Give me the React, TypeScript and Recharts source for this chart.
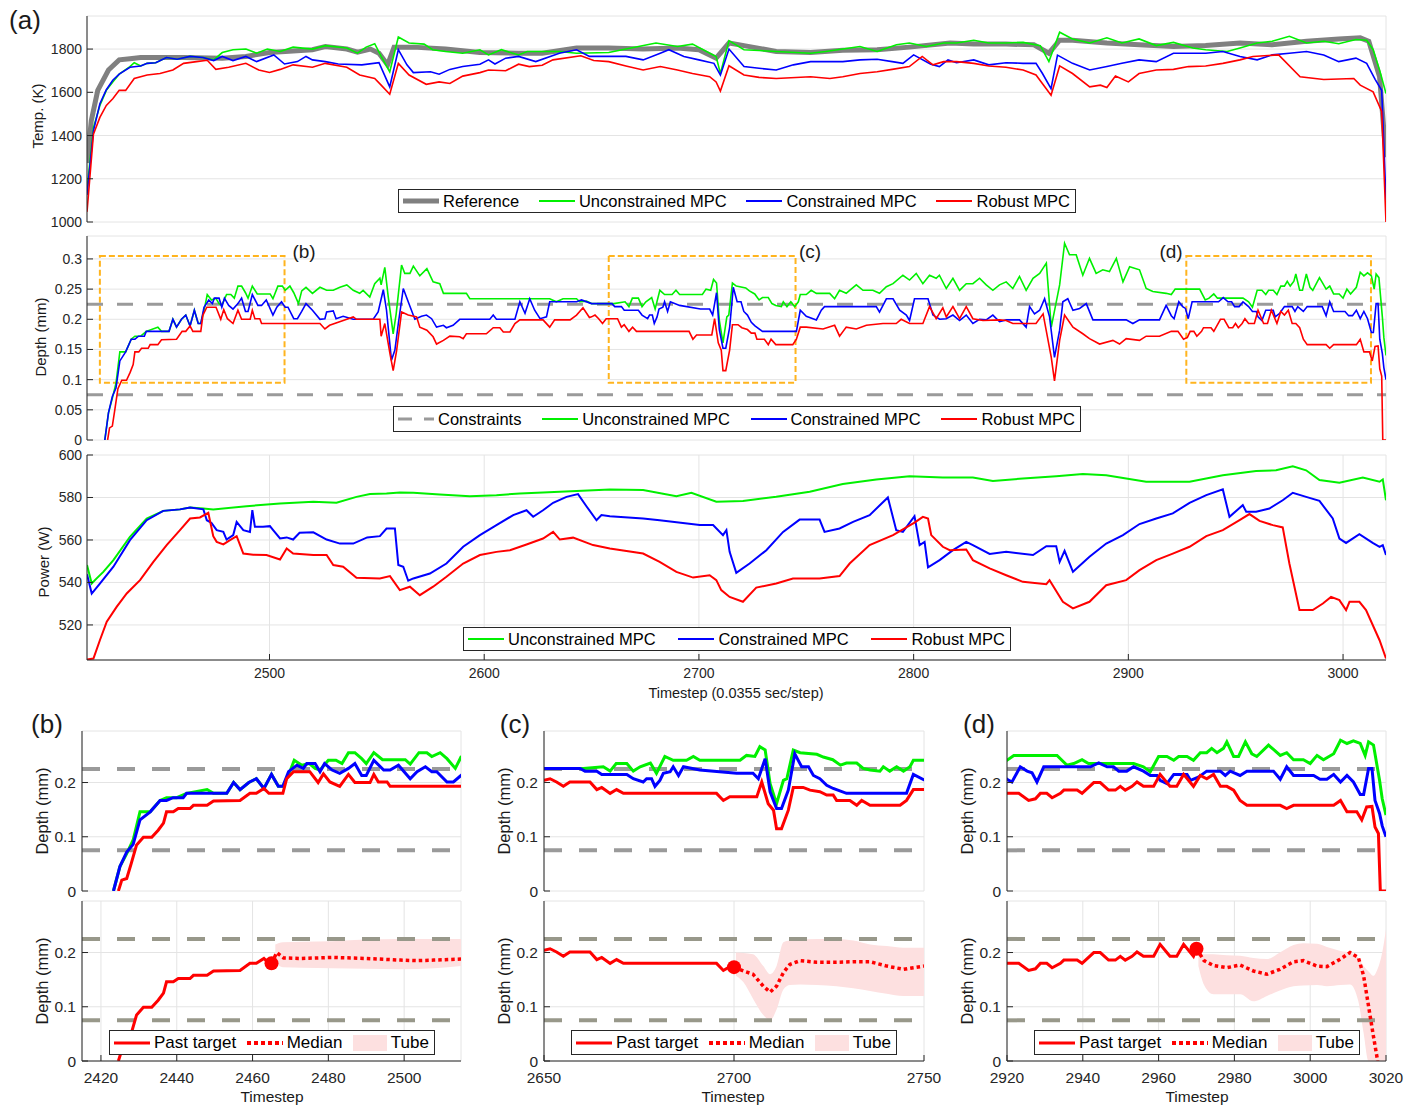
import React from 'react';
import {
  ComposedChart,
  Line,
  Area,
  XAxis,
  YAxis,
  CartesianGrid,
  ReferenceLine,
  ReferenceArea,
  ReferenceDot
} from 'recharts';

type Pt = [number, number];

// ---- panel (a): temperature (K) ----
const tempRef: Pt[] = [
  [2415, 1273], [2417, 1469], [2420, 1609], [2425, 1703], [2430, 1750], [2435, 1755], [2440, 1761], [2460, 1761],
  [2478, 1758], [2489, 1766], [2500, 1784], [2520, 1797], [2526, 1812], [2536, 1800], [2541, 1786], [2547, 1800],
  [2551, 1781], [2555, 1727], [2558, 1809], [2567, 1809], [2582, 1800], [2598, 1784], [2616, 1781], [2627, 1781],
  [2643, 1805], [2658, 1805], [2674, 1800], [2690, 1805], [2700, 1797], [2708, 1758], [2714, 1828], [2721, 1816],
  [2736, 1789], [2752, 1784], [2767, 1794], [2783, 1797], [2798, 1809], [2817, 1828], [2828, 1823], [2843, 1823],
  [2856, 1820], [2863, 1781], [2868, 1841], [2874, 1841], [2890, 1828], [2905, 1820], [2921, 1812], [2936, 1816],
  [2952, 1828], [2967, 1820], [2983, 1836], [2998, 1847], [3008, 1852], [3012, 1836], [3017, 1672], [3020, 1300]
];
const tempUnc: Pt[] = [
  [2415, 1150], [2418, 1437], [2421, 1539], [2424, 1609], [2427, 1648], [2430, 1684], [2435, 1719], [2437, 1737],
  [2440, 1722], [2443, 1734], [2447, 1737], [2452, 1761], [2457, 1753], [2463, 1766], [2469, 1761], [2474, 1750],
  [2478, 1784], [2483, 1797], [2489, 1800], [2494, 1781], [2499, 1800], [2505, 1789], [2511, 1809], [2520, 1800],
  [2526, 1816], [2536, 1805], [2541, 1781], [2545, 1809], [2549, 1825], [2552, 1766], [2556, 1695], [2560, 1856],
  [2565, 1828], [2572, 1823], [2576, 1797], [2582, 1789], [2590, 1781], [2598, 1797], [2602, 1773], [2608, 1797],
  [2616, 1773], [2620, 1789], [2627, 1789], [2635, 1789], [2643, 1781], [2658, 1784], [2666, 1800], [2680, 1828],
  [2690, 1812], [2697, 1823], [2708, 1766], [2710, 1687], [2714, 1839], [2721, 1797], [2736, 1789], [2752, 1781],
  [2759, 1789], [2767, 1800], [2775, 1812], [2783, 1789], [2792, 1820], [2798, 1828], [2806, 1812], [2814, 1828],
  [2820, 1828], [2828, 1841], [2835, 1828], [2843, 1828], [2851, 1831], [2859, 1816], [2863, 1742], [2868, 1878],
  [2874, 1847], [2882, 1828], [2890, 1852], [2897, 1828], [2905, 1847], [2913, 1816], [2921, 1831], [2930, 1805],
  [2936, 1797], [2946, 1789], [2952, 1805], [2960, 1828], [2967, 1836], [2975, 1859], [2983, 1828], [2991, 1836],
  [2998, 1825], [3006, 1844], [3011, 1841], [3014, 1797], [3017, 1703], [3020, 1594]
];
const tempCon: Pt[] = [
  [2415, 1125], [2418, 1422], [2421, 1547], [2424, 1612], [2427, 1656], [2430, 1684], [2435, 1716], [2440, 1722],
  [2443, 1734], [2447, 1737], [2452, 1761], [2457, 1753], [2463, 1766], [2469, 1761], [2474, 1747], [2478, 1766],
  [2483, 1747], [2489, 1766], [2494, 1742], [2502, 1773], [2507, 1731], [2513, 1742], [2517, 1766], [2520, 1750],
  [2526, 1742], [2532, 1731], [2543, 1727], [2551, 1737], [2556, 1625], [2560, 1797], [2564, 1727], [2567, 1691],
  [2575, 1695], [2579, 1684], [2584, 1706], [2590, 1719], [2598, 1730], [2602, 1750], [2605, 1731], [2610, 1758],
  [2616, 1766], [2624, 1742], [2635, 1781], [2643, 1797], [2649, 1766], [2666, 1766], [2674, 1750], [2682, 1781],
  [2686, 1797], [2693, 1766], [2700, 1750], [2707, 1734], [2710, 1680], [2714, 1800], [2721, 1719], [2728, 1711],
  [2736, 1703], [2744, 1727], [2752, 1742], [2767, 1742], [2775, 1750], [2783, 1753], [2790, 1742], [2795, 1734],
  [2800, 1773], [2808, 1730], [2812, 1719], [2816, 1750], [2820, 1737], [2828, 1750], [2835, 1727], [2843, 1737],
  [2851, 1734], [2857, 1734], [2860, 1687], [2864, 1617], [2867, 1772], [2874, 1734], [2882, 1703], [2890, 1719],
  [2897, 1734], [2905, 1750], [2913, 1742], [2921, 1781], [2936, 1781], [2944, 1789], [2952, 1766], [2960, 1750],
  [2967, 1773], [2975, 1781], [2983, 1789], [2991, 1773], [2998, 1742], [3006, 1758], [3011, 1734], [3015, 1659],
  [3018, 1609], [3020, 1100]
];
const tempRob: Pt[] = [
  [2415, 1047], [2418, 1406], [2421, 1484], [2424, 1539], [2427, 1570], [2430, 1609], [2433, 1609], [2437, 1664],
  [2443, 1680], [2449, 1687], [2455, 1703], [2460, 1734], [2466, 1742], [2471, 1748], [2475, 1706], [2481, 1716],
  [2489, 1734], [2495, 1703], [2500, 1692], [2505, 1706], [2511, 1727], [2520, 1716], [2526, 1734], [2536, 1716],
  [2542, 1680], [2549, 1664], [2552, 1633], [2556, 1591], [2560, 1734], [2565, 1680], [2573, 1637], [2579, 1648],
  [2584, 1641], [2590, 1675], [2598, 1691], [2602, 1703], [2610, 1700], [2616, 1730], [2621, 1719], [2627, 1725],
  [2632, 1750], [2645, 1769], [2651, 1747], [2658, 1742], [2666, 1722], [2674, 1703], [2682, 1719], [2690, 1703],
  [2697, 1687], [2705, 1672], [2708, 1648], [2710, 1606], [2714, 1723], [2721, 1680], [2728, 1669], [2736, 1664],
  [2752, 1672], [2761, 1664], [2767, 1672], [2775, 1687], [2783, 1695], [2790, 1706], [2798, 1719], [2804, 1766],
  [2809, 1727], [2814, 1742], [2820, 1742], [2828, 1734], [2835, 1722], [2843, 1716], [2851, 1703], [2857, 1680],
  [2864, 1586], [2868, 1722], [2874, 1687], [2882, 1625], [2887, 1633], [2890, 1622], [2894, 1675], [2900, 1648],
  [2905, 1687], [2913, 1703], [2921, 1706], [2928, 1719], [2936, 1722], [2944, 1734], [2952, 1750], [2958, 1766],
  [2970, 1773], [2980, 1672], [2991, 1659], [3005, 1664], [3008, 1633], [3014, 1602], [3018, 1511], [3020, 1000]
];

// ---- depth (mm) ----
const depthUnc: Pt[] = [
  [2423.3, 0], [2425, 0.045], [2426.8, 0.069], [2428.5, 0.094], [2430.3, 0.146], [2433, 0.146], [2435.6, 0.167],
  [2437.3, 0.172], [2440, 0.172], [2442.6, 0.18], [2448, 0.187], [2449.7, 0.18], [2453.2, 0.18], [2455, 0.2],
  [2456.7, 0.187], [2459, 0.2], [2461, 0.207], [2463, 0.189], [2465, 0.215], [2466.8, 0.193], [2468, 0.193],
  [2470, 0.223], [2471, 0.241], [2473, 0.232], [2475, 0.235], [2476.5, 0.226], [2477.8, 0.223], [2480, 0.241],
  [2482, 0.241], [2483.6, 0.235], [2485.3, 0.255], [2487, 0.255], [2488.8, 0.244], [2490, 0.235], [2492, 0.255],
  [2494.3, 0.242], [2500.3, 0.242], [2501.6, 0.234], [2503.9, 0.255], [2506, 0.255], [2507.3, 0.248], [2509.5, 0.255],
  [2511.3, 0.244], [2513.5, 0.226], [2515, 0.247], [2517, 0.253], [2520, 0.243], [2523.5, 0.253], [2526.6, 0.248],
  [2529.7, 0.248], [2532.8, 0.253], [2536, 0.257], [2539, 0.248], [2542, 0.243], [2543.6, 0.248], [2546.7, 0.237],
  [2549, 0.259], [2551.4, 0.268], [2552, 0.257], [2553.7, 0.286], [2555.3, 0.237], [2557.6, 0.176], [2559, 0.209],
  [2561.5, 0.29], [2563, 0.276], [2565.4, 0.276], [2567, 0.288], [2570, 0.272], [2573.3, 0.284], [2576.2, 0.262],
  [2579.3, 0.259], [2581, 0.243], [2591.7, 0.243], [2593.3, 0.234], [2630.5, 0.234], [2633.6, 0.229],
  [2636.7, 0.234], [2643, 0.234], [2644.5, 0.229], [2647.6, 0.23], [2650, 0.226], [2660.4, 0.226], [2665.6, 0.229],
  [2667.4, 0.221], [2669, 0.235], [2671.8, 0.235], [2673.5, 0.221], [2675.3, 0.229], [2678, 0.236], [2679.6, 0.217],
  [2681.8, 0.248], [2684, 0.241], [2687.5, 0.241], [2689.3, 0.248], [2691, 0.241], [2701.6, 0.241], [2703.3, 0.25],
  [2705.5, 0.248], [2706.8, 0.266], [2708.2, 0.26], [2709.5, 0.198], [2711.2, 0.161], [2713, 0.204], [2713.9, 0.207],
  [2715.6, 0.26], [2717.4, 0.255], [2721.8, 0.252], [2723.5, 0.247], [2726, 0.242], [2728, 0.232], [2729.6, 0.236],
  [2732.3, 0.236], [2734, 0.226], [2735.8, 0.223], [2738.4, 0.221], [2739.3, 0.229], [2741, 0.221], [2742.8, 0.229],
  [2744.6, 0.221], [2746.3, 0.229], [2747.2, 0.241], [2750, 0.241], [2752.3, 0.248], [2754.7, 0.243],
  [2760.9, 0.243], [2763.2, 0.234], [2765.5, 0.248], [2768.6, 0.243], [2770.2, 0.248], [2773.3, 0.257],
  [2776.4, 0.248], [2781, 0.248], [2784.1, 0.243], [2787.3, 0.254], [2790.4, 0.259], [2795, 0.273], [2798.1, 0.265],
  [2801.2, 0.276], [2804.3, 0.259], [2807.4, 0.273], [2810.5, 0.268], [2812, 0.273], [2815.2, 0.251],
  [2818.3, 0.268], [2821.4, 0.248], [2824.5, 0.259], [2827.6, 0.259], [2830.7, 0.268], [2833.8, 0.257],
  [2836.9, 0.248], [2840, 0.257], [2843.1, 0.262], [2846.2, 0.251], [2849.3, 0.271], [2852.4, 0.248],
  [2855.6, 0.268], [2858.7, 0.276], [2861.8, 0.293], [2864.1, 0.187], [2868, 0.257], [2870.3, 0.326],
  [2872.6, 0.307], [2875.7, 0.307], [2878.8, 0.273], [2881.9, 0.301], [2885, 0.276], [2888.1, 0.282],
  [2891.2, 0.279], [2894.4, 0.301], [2897.5, 0.262], [2900.6, 0.287], [2905.2, 0.282], [2908.3, 0.251],
  [2911.4, 0.246], [2917.6, 0.243], [2920, 0.241], [2921.8, 0.25], [2933.2, 0.25], [2935.8, 0.232],
  [2937.6, 0.235], [2939.8, 0.242], [2941.5, 0.235], [2953.4, 0.235], [2956, 0.229], [2957.8, 0.22], [2960, 0.248],
  [2962.2, 0.248], [2964, 0.241], [2965.3, 0.248], [2967.5, 0.248], [2969.2, 0.241], [2971, 0.255], [2972.7, 0.255],
  [2974, 0.263], [2975.4, 0.255], [2977.1, 0.263], [2978, 0.275], [2979.8, 0.248], [2981.1, 0.248], [2982.9, 0.275],
  [2984.6, 0.253], [2985.9, 0.248], [2989, 0.269], [2990.3, 0.261], [2992.1, 0.25], [2993.8, 0.255],
  [2995.6, 0.242], [2998.2, 0.242], [3000, 0.235], [3001.8, 0.25], [3003.5, 0.242], [3006.2, 0.253], [3008, 0.278],
  [3009.7, 0.272], [3011.4, 0.277], [3013.2, 0.272], [3014.5, 0.25], [3015.4, 0.275], [3016.7, 0.269],
  [3018.3, 0.204], [3019, 0.17], [3020, 0.14]
];
const depthCon: Pt[] = [
  [2423.3, 0], [2425, 0.045], [2426.8, 0.072], [2428.5, 0.086], [2430.3, 0.131], [2433, 0.146], [2435.6, 0.167],
  [2437.3, 0.167], [2439, 0.172], [2441.7, 0.172], [2442.6, 0.18], [2453.2, 0.18], [2455, 0.2], [2456.7, 0.187],
  [2459, 0.2], [2461, 0.207], [2463, 0.189], [2465, 0.215], [2466.8, 0.193], [2468, 0.193], [2469.5, 0.22],
  [2471.7, 0.232], [2473.4, 0.226], [2474.3, 0.235], [2476.5, 0.235], [2477.8, 0.22], [2479, 0.235], [2481, 0.223],
  [2483, 0.217], [2485.3, 0.226], [2487, 0.235], [2488.8, 0.213], [2490, 0.213], [2492, 0.241], [2494.6, 0.223],
  [2496.3, 0.223], [2498.5, 0.232], [2501.6, 0.207], [2503.4, 0.22], [2505.6, 0.229], [2507.3, 0.22],
  [2508.6, 0.22], [2511.3, 0.201], [2513, 0.201], [2515, 0.213], [2517, 0.226], [2520, 0.215], [2523.5, 0.2],
  [2525.8, 0.201], [2526.6, 0.212], [2529.7, 0.214], [2531, 0.201], [2534.3, 0.205], [2539, 0.2], [2548.3, 0.2],
  [2550.6, 0.212], [2553, 0.249], [2554.5, 0.215], [2556.8, 0.132], [2558.4, 0.149], [2560, 0.193],
  [2562.3, 0.251], [2564.6, 0.229], [2567.7, 0.2], [2570.8, 0.205], [2573.1, 0.207], [2575.5, 0.201],
  [2577.8, 0.187], [2581, 0.19], [2582.4, 0.186], [2585.5, 0.19], [2588.6, 0.2], [2602.6, 0.2], [2604.2, 0.207],
  [2605.7, 0.2], [2614.3, 0.2], [2616.6, 0.229], [2619, 0.21], [2621.2, 0.234], [2623.5, 0.215], [2626, 0.201],
  [2629, 0.204], [2630.5, 0.229], [2643, 0.229], [2645.3, 0.232], [2650, 0.226], [2659.5, 0.226],
  [2660.8, 0.221], [2663.9, 0.221], [2665.2, 0.215], [2671.8, 0.215], [2673.5, 0.207], [2676.1, 0.201],
  [2677, 0.207], [2678.3, 0.207], [2679.2, 0.193], [2680.5, 0.204], [2681.4, 0.217], [2683.2, 0.22], [2684, 0.229],
  [2685.4, 0.213], [2686.7, 0.229], [2691, 0.223], [2700.7, 0.217], [2705, 0.217], [2706.4, 0.207],
  [2708.2, 0.244], [2709.5, 0.183], [2711.2, 0.152], [2712.5, 0.152], [2714.3, 0.186], [2716, 0.253],
  [2717.8, 0.229], [2719.6, 0.229], [2720.9, 0.213], [2722.6, 0.207], [2724.4, 0.195], [2726.1, 0.189],
  [2729.6, 0.18], [2745.4, 0.18], [2747.2, 0.215], [2750, 0.205], [2754.7, 0.199], [2757, 0.215], [2758.5, 0.221],
  [2782.6, 0.221], [2784.1, 0.212], [2787.3, 0.234], [2790.4, 0.234], [2793.5, 0.215], [2796.6, 0.207],
  [2798.1, 0.198], [2800.4, 0.234], [2806.7, 0.234], [2809, 0.207], [2812.1, 0.2], [2815.2, 0.201],
  [2818.3, 0.207], [2821.4, 0.198], [2824.5, 0.207], [2827.6, 0.193], [2830.7, 0.2], [2833.8, 0.199],
  [2836.9, 0.207], [2840, 0.196], [2843.1, 0.199], [2849.3, 0.199], [2852.4, 0.187], [2854, 0.221],
  [2856.3, 0.209], [2858.7, 0.215], [2861, 0.234], [2863.3, 0.204], [2865.6, 0.137], [2868, 0.182],
  [2869.5, 0.229], [2871.8, 0.234], [2874.2, 0.215], [2877.3, 0.218], [2880.4, 0.226], [2883.5, 0.199],
  [2899, 0.199], [2902.1, 0.193], [2905.2, 0.199], [2914.5, 0.199], [2917.6, 0.223], [2920, 0.206],
  [2921.3, 0.201], [2923.5, 0.229], [2925.3, 0.221], [2926.6, 0.218], [2927.9, 0.201], [2929.7, 0.229],
  [2942, 0.229], [2944.2, 0.236], [2946.4, 0.229], [2948.1, 0.229], [2949.5, 0.221], [2951.6, 0.221],
  [2953.4, 0.229], [2956, 0.221], [2957.8, 0.213], [2959.6, 0.213], [2960.4, 0.204], [2962.2, 0.198], [2964, 0.215],
  [2967.5, 0.215], [2968.4, 0.204], [2970.5, 0.21], [2972.7, 0.221], [2976.3, 0.221], [2977.6, 0.213],
  [2978.9, 0.221], [2981.5, 0.213], [2983.3, 0.221], [2990.3, 0.221], [2992.1, 0.206], [2993.8, 0.229],
  [2995.6, 0.213], [3000.9, 0.213], [3002.6, 0.206], [3004.4, 0.206], [3006.2, 0.215], [3008, 0.201],
  [3009.7, 0.213], [3011.4, 0.201], [3013.2, 0.178], [3014.1, 0.178], [3015.4, 0.226], [3016.3, 0.226],
  [3017.1, 0.167], [3018.3, 0.143], [3019, 0.12], [3020, 0.1]
];
const depthRob: Pt[] = [
  [2424.6, 0], [2425.5, 0.02], [2426.8, 0.023], [2428, 0.051], [2429.4, 0.085], [2431.2, 0.099], [2433.4, 0.099],
  [2435.1, 0.112], [2436.5, 0.125], [2437.3, 0.146], [2439.1, 0.146], [2440.4, 0.152], [2443.5, 0.152],
  [2444.4, 0.158], [2448, 0.158], [2449.7, 0.166], [2456.7, 0.167], [2459.3, 0.18], [2461, 0.18], [2463, 0.189],
  [2464.3, 0.18], [2468, 0.18], [2469, 0.207], [2470.8, 0.22], [2475.1, 0.22], [2477.3, 0.2], [2478.7, 0.216],
  [2480.4, 0.201], [2483, 0.193], [2485.3, 0.215], [2487, 0.2], [2491, 0.2], [2492, 0.215], [2493.2, 0.201],
  [2495.5, 0.201], [2496.3, 0.193], [2523.5, 0.193], [2525.8, 0.184], [2528, 0.19], [2536, 0.2], [2539, 0.204],
  [2540.5, 0.2], [2551.4, 0.2], [2552, 0.172], [2553.7, 0.193], [2556.1, 0.143], [2557.6, 0.115], [2559.2, 0.148],
  [2561.5, 0.212], [2564.6, 0.207], [2568.5, 0.204], [2570, 0.187], [2573.3, 0.182], [2576.2, 0.171],
  [2577.8, 0.159], [2581, 0.165], [2584, 0.172], [2588.6, 0.171], [2590.2, 0.168], [2591.7, 0.176], [2601, 0.176],
  [2604.2, 0.186], [2607.3, 0.186], [2608.9, 0.179], [2612, 0.179], [2614.3, 0.193], [2616.6, 0.199],
  [2627.4, 0.199], [2630.5, 0.187], [2632.8, 0.199], [2640, 0.199], [2643, 0.207], [2646, 0.219], [2649, 0.203],
  [2650, 0.204], [2651.6, 0.207], [2653.3, 0.201], [2655.1, 0.193], [2656.8, 0.201], [2662.1, 0.201],
  [2663.9, 0.187], [2665.2, 0.191], [2667.4, 0.18], [2669.1, 0.187], [2670.9, 0.18], [2695.4, 0.18],
  [2697.2, 0.167], [2698.9, 0.174], [2706, 0.174], [2707.3, 0.201], [2709, 0.161], [2710.4, 0.149],
  [2711.2, 0.115], [2712.5, 0.115], [2714.3, 0.149], [2715.6, 0.191], [2718.2, 0.191], [2720, 0.186],
  [2722.6, 0.183], [2724.4, 0.177], [2726.1, 0.177], [2727, 0.167], [2730.5, 0.167], [2732.3, 0.158],
  [2733.6, 0.167], [2735.8, 0.158], [2743.7, 0.158], [2745.4, 0.167], [2747.2, 0.187], [2750, 0.187],
  [2757.8, 0.184], [2763.2, 0.19], [2765.5, 0.172], [2768.6, 0.187], [2773.3, 0.184], [2778, 0.19],
  [2785.7, 0.193], [2791.9, 0.193], [2794.2, 0.2], [2798.1, 0.193], [2804.3, 0.193], [2807.4, 0.221],
  [2810.5, 0.201], [2813.6, 0.219], [2815.2, 0.204], [2818.3, 0.221], [2821.4, 0.201], [2824.5, 0.221],
  [2827.6, 0.201], [2832.3, 0.198], [2840, 0.199], [2843.1, 0.198], [2846.2, 0.193], [2857, 0.193],
  [2860.3, 0.209], [2864.1, 0.137], [2865.6, 0.098], [2868, 0.165], [2870.3, 0.207], [2874.2, 0.187],
  [2878.8, 0.176], [2881.9, 0.168], [2886.6, 0.159], [2892.8, 0.165], [2895.9, 0.159], [2899, 0.168],
  [2905.2, 0.165], [2908.3, 0.172], [2914.5, 0.172], [2920, 0.18], [2923.1, 0.18], [2925.7, 0.167],
  [2927.5, 0.17], [2928.8, 0.18], [2930.5, 0.18], [2931.9, 0.172], [2934.1, 0.18], [2935, 0.186],
  [2938.5, 0.186], [2939.8, 0.18], [2942.9, 0.2], [2944.6, 0.2], [2946.8, 0.186], [2948.6, 0.186],
  [2949.9, 0.193], [2951.2, 0.186], [2953, 0.193], [2954.3, 0.201], [2956, 0.193], [2958.7, 0.193],
  [2960.4, 0.215], [2963, 0.193], [2964.8, 0.193], [2966.6, 0.215], [2969.2, 0.193], [2971, 0.213],
  [2972.7, 0.207], [2974.5, 0.215], [2976.3, 0.193], [2978, 0.193], [2979.8, 0.186], [2981.5, 0.167],
  [2983.3, 0.158], [2992.1, 0.158], [2993.8, 0.152], [2995.6, 0.158], [3006.2, 0.158], [3008, 0.167],
  [3009.7, 0.146], [3012.3, 0.146], [3013.6, 0.131], [3014.9, 0.155], [3016.3, 0.156], [3017.1, 0.118],
  [3018, 0.106], [3018.5, 0], [3020, 0]
];
const constraintLevels = [0.075, 0.225];
// dashed orange boxes: timestep spans, depth span
const boxSpans: Pt[] = [[2421, 2507], [2658, 2745], [2927, 3013]];
const boxDepth: Pt = [0.095, 0.305];
const boxNames = ['(b)', '(c)', '(d)'];

// ---- power (W) ----
const powerUnc: Pt[] = [
  [2415, 548.2], [2417.2, 539.5], [2419.5, 541.9], [2422.6, 545], [2427.3, 550.5], [2435, 561.5], [2442.8, 570.1],
  [2450.5, 573.7], [2458.3, 574.4], [2463, 575.3], [2469.2, 574.8], [2473.8, 574.4], [2489.3, 575.9],
  [2504.9, 577.2], [2520.4, 578], [2531.2, 577.5], [2540.5, 580.3], [2546.8, 581.6], [2554.5, 581.9],
  [2560.7, 582.4], [2567, 582.2], [2579.3, 581.4], [2593.3, 580.6], [2605.7, 581.1], [2616.6, 581.9],
  [2627.4, 582.4], [2643, 583.1], [2658.5, 583.8], [2674, 583.5], [2689.5, 580.6], [2696.5, 582.2], [2708.1, 578],
  [2720.5, 578.4], [2736, 580.3], [2751.6, 582.7], [2767, 586.3], [2782.6, 588.5], [2798.1, 590], [2813.6, 589.4],
  [2827.6, 589.4], [2836.9, 587.8], [2850.9, 588.9], [2866.4, 590], [2878.8, 591], [2889.7, 590.5], [2899, 588.9],
  [2908.3, 587.4], [2928.5, 587.4], [2944, 590.5], [2959.5, 592.5], [2968.8, 592.8], [2976.6, 594.7],
  [2982.8, 592.8], [2989, 588.2], [2998.3, 586.9], [3009.2, 589.4], [3017, 587.4], [3018.5, 588.5], [3020, 578.7]
];
const powerCon: Pt[] = [
  [2415, 543.9], [2417.2, 534.8], [2421, 539.5], [2427.3, 547.4], [2435, 559.9], [2442.8, 569.3], [2450.5, 573.7],
  [2458.3, 574.4], [2463, 575.3], [2469.2, 574.4], [2470.8, 569.3], [2473, 568], [2475.4, 564.6], [2478.5, 563.8],
  [2480, 560.2], [2483.1, 562.3], [2484.7, 568.5], [2487.8, 564.6], [2490.9, 563.8], [2492, 574], [2493.2, 566.2],
  [2497, 566.2], [2500.2, 566.5], [2501.7, 564.6], [2504.9, 560.7], [2508, 561.2], [2511, 560.2], [2514, 563.4],
  [2520.4, 563.6], [2526.6, 560.2], [2532.8, 558.3], [2539, 558.3], [2545.5, 561.2], [2551.4, 561.8],
  [2554.5, 565.4], [2558.4, 565.4], [2560, 548.2], [2562.3, 547.4], [2564.6, 540.8], [2567, 541.9],
  [2574.7, 544.2], [2582.4, 548.9], [2590.2, 556.8], [2598, 562.3], [2605.7, 567], [2613.5, 571.7],
  [2619.7, 574], [2622.8, 570.9], [2627.4, 574], [2632.1, 577.5], [2638.3, 580.3], [2643.7, 581.6],
  [2647.6, 575.9], [2652.3, 569.3], [2654.6, 571.7], [2658.5, 571.2], [2674, 570.1], [2681.7, 569.3],
  [2700.4, 567], [2706.6, 567], [2711.2, 562.3], [2712.8, 564.6], [2714.3, 554.4], [2717.4, 544.5],
  [2723.6, 548.9], [2731.4, 555.2], [2739.2, 563.8], [2746.9, 569.6], [2756.2, 569.6], [2758.5, 563.8],
  [2765.5, 565.4], [2771.8, 568.5], [2779.5, 571.7], [2788, 580], [2791.9, 564.6], [2795, 563.8],
  [2800.4, 571.2], [2802.8, 557.6], [2805.1, 559.1], [2806.7, 547.1], [2812.1, 550.5], [2818.3, 555.2],
  [2824.5, 559.1], [2827.6, 557.6], [2835.4, 553.4], [2843.1, 554.4], [2855.6, 552.9], [2861.8, 557.1],
  [2866.4, 557.1], [2868, 549.7], [2870.3, 554.9], [2874.2, 545], [2881.9, 552.1], [2889.7, 558.3],
  [2897.5, 562.3], [2905.2, 567.5], [2913, 570.1], [2920.7, 572.5], [2928.5, 577.5], [2936.3, 581.1],
  [2944, 583.8], [2947.1, 570.9], [2953.3, 576.4], [2954.9, 573.3], [2959.5, 573.3], [2965.7, 574.8],
  [2971.9, 578.7], [2976.6, 582.2], [2982.8, 580.3], [2989, 578.4], [2995.2, 570.1], [2998.3, 560.7],
  [3001.4, 558.6], [3007.6, 562.7], [3013.8, 558.6], [3017, 556.8], [3018.5, 557.6], [3020, 552.9]
];
const powerRob: Pt[] = [
  [2415, 503.7], [2418, 504.2], [2421, 512.8], [2424.2, 521.5], [2428.8, 528.5], [2433.5, 534.8], [2439.7, 541.1],
  [2445.9, 549.7], [2452.1, 557.6], [2458.3, 564.6], [2463, 570.1], [2467.6, 570.6], [2471.5, 572.8],
  [2473.8, 561.8], [2475.4, 559.1], [2478.5, 557.9], [2481.6, 559.9], [2484.7, 561.8], [2487.8, 553.6],
  [2492.4, 553.1], [2498.6, 552.9], [2504.9, 550.8], [2508, 556], [2511, 553.6], [2520.4, 552.9], [2526.6, 552.9],
  [2529.7, 548.2], [2534.3, 547.4], [2540.5, 542.2], [2551.4, 541.9], [2556.1, 543], [2560.7, 536.4],
  [2565.4, 538], [2570, 534], [2576.2, 538], [2582.4, 542.7], [2590.2, 548.9], [2598, 552.9], [2605.7, 554.4],
  [2612, 555.2], [2619.7, 557.9], [2627.4, 560.7], [2632.1, 563.8], [2635.2, 560.2], [2641.4, 561.1],
  [2650.7, 557.6], [2658.5, 556], [2674, 553.6], [2681.7, 549.7], [2689.5, 545], [2697.3, 542.3], [2705, 543.4],
  [2708.1, 541.1], [2710.4, 536.4], [2714.3, 533.2], [2720.5, 530.9], [2726.7, 537.6], [2736, 539.5],
  [2743.8, 541.9], [2756.2, 541.9], [2765.5, 543], [2770.2, 548.9], [2779.5, 557.6], [2790.4, 562.3],
  [2800.4, 568.2], [2804.3, 570.9], [2806.7, 570.1], [2808.2, 562.3], [2813.6, 556.8], [2816.8, 555.2],
  [2824.5, 555.5], [2827.6, 550.5], [2835.4, 546.6], [2843.1, 543.4], [2850.9, 540.3], [2861.8, 539.2],
  [2863.3, 541.1], [2869.5, 530.9], [2874.2, 527.8], [2881.9, 530.9], [2889.7, 538.7], [2899, 541.1],
  [2905.2, 545.8], [2913, 550.5], [2920.7, 553.6], [2928.5, 556.8], [2936.3, 561.8], [2944, 564.6],
  [2951.8, 569.3], [2956.4, 572.2], [2961.1, 569], [2967.3, 567], [2971.9, 565.9], [2975, 548.9], [2979.7, 527],
  [2985.9, 527], [2990.6, 530.1], [2994.4, 533.2], [2998.3, 531.7], [3001.4, 527], [3003, 530.9], [3007.6, 530.9],
  [3010.7, 527], [3017, 512.8], [3020, 504.2]
];

// ---- zoom panels (b), (c), (d) ----
const zoomWindows: Pt[] = [[2415, 2515], [2650, 2750], [2920, 3020]];
const zoomTicks = [
  [2420, 2440, 2460, 2480, 2500],
  [2650, 2700, 2750],
  [2920, 2940, 2960, 2980, 3000, 3020]
];
// prediction start (timestep, depth)
const predStart: Pt[] = [[2465, 0.18], [2700, 0.173], [2970, 0.207]];
const medianB: Pt[] = [
  [2465, 0.18], [2466.4, 0.2], [2468.2, 0.19], [2472.6, 0.189], [2481.4, 0.191], [2490.2, 0.189], [2499, 0.186],
  [2503.4, 0.185], [2507.8, 0.186], [2515, 0.188]
];
const medianC: Pt[] = [
  [2700, 0.173], [2702.5, 0.166], [2705, 0.16], [2707.7, 0.138], [2709.5, 0.127], [2711.2, 0.138], [2713, 0.163],
  [2714.7, 0.178], [2717.4, 0.185], [2721.8, 0.182], [2727, 0.182], [2731.4, 0.183], [2735.8, 0.183],
  [2740.2, 0.175], [2744.6, 0.169], [2747.2, 0.172], [2750, 0.175]
];
const medianD: Pt[] = [
  [2970, 0.207], [2972, 0.185], [2974.5, 0.176], [2978, 0.172], [2981.5, 0.177], [2985, 0.166], [2988.6, 0.16],
  [2992, 0.169], [2995.6, 0.183], [2998.2, 0.185], [3001.8, 0.175], [3004.4, 0.174], [3008, 0.188], [3010.5, 0.2],
  [3012.7, 0.191], [3014.1, 0.157], [3015.4, 0.101], [3016.7, 0.045], [3017.8, 0]
];
const tubeBT = [2466, 2468, 2473, 2481, 2490, 2499, 2508, 2515];
const tubeBHi = [0.215, 0.219, 0.22, 0.221, 0.224, 0.225, 0.225, 0.225];
const tubeBLo = [0.181, 0.173, 0.172, 0.171, 0.17, 0.169, 0.171, 0.175];
const tubeCT = [2700.5, 2702.5, 2705, 2707.7, 2709.5, 2711.2, 2713, 2714.7, 2717.4, 2721.8, 2727, 2731.4, 2735.8, 2740.2, 2744.6, 2750];
const tubeCHi = [0.2, 0.199, 0.197, 0.175, 0.16, 0.175, 0.219, 0.222, 0.224, 0.225, 0.225, 0.222, 0.215, 0.212, 0.209, 0.209];
const tubeCLo = [0.157, 0.145, 0.115, 0.085, 0.075, 0.095, 0.132, 0.14, 0.141, 0.14, 0.138, 0.134, 0.129, 0.124, 0.12, 0.12];
const tubeDT = [2970.5, 2972, 2974.5, 2978, 2981.5, 2985, 2988.6, 2992, 2995.6, 2998.2, 3001.8, 3004.4, 3008, 3010.5, 3012.7, 3014.1, 3015.4, 3016.7, 3017.8, 3019, 3020];
const tubeDHi = [0.197, 0.197, 0.197, 0.195, 0.194, 0.19, 0.188, 0.2, 0.214, 0.217, 0.216, 0.21, 0.203, 0.2, 0.19, 0.175, 0.165, 0.157, 0.17, 0.2, 0.243];
const tubeDLo = [0.175, 0.14, 0.123, 0.123, 0.123, 0.11, 0.12, 0.13, 0.138, 0.139, 0.14, 0.138, 0.14, 0.141, 0.11, 0.051, 0, 0, 0, 0, 0];

const mpcNames = ['Unconstrained MPC', 'Constrained MPC', 'Robust MPC'];

const FONT = '"Liberation Sans", Arial, Helvetica, sans-serif';
const AXIS = '#262626';
const GRID = '#e4e4e4';
const GREEN = '#00f000';
const BLUE = '#0000ff';
const RED = '#ff0000';
const REFGRAY = '#808080';
const CONGRAY = '#9a9a9a';
const TUBE = '#fde0e0';

const rows = (pts: Pt[]) => pts.map(([t, v]) => ({ t, v }));
// keep a generous margin so segments crossing the window edge still get drawn (clipped by the axes)
const inWin = (pts: Pt[], w: Pt) => pts.filter(([t]) => t >= w[0] - 30 && t <= w[1] + 30);
const tubeRows = (t: number[], lo: number[], hi: number[]) => t.map((x, i) => ({ t: x, range: [lo[i], hi[i]] }));

type PanelProps = {
  left: number;
  top: number;
  width: number;
  height: number;
  margin: { top: number; right: number; bottom: number; left: number };
  xDomain: Pt;
  xTicks: number[];
  xLabels: boolean;
  yDomain: Pt;
  yTicks: number[];
  yWidth: number;
  fontSize: number;
  yTickMargin: number;
  xTickMargin: number;
  children: React.ReactNode;
};

function Panel(p: PanelProps) {
  const tickStyle = { fill: AXIS, fontSize: p.fontSize };
  return (
    <div style={{ position: 'absolute', left: p.left, top: p.top }}>
      <ComposedChart width={p.width} height={p.height} margin={p.margin}>
        <CartesianGrid stroke={GRID} />
        <XAxis
          xAxisId={0}
          type="number"
          dataKey="t"
          domain={p.xDomain}
          ticks={p.xTicks}
          interval={0}
          allowDataOverflow
          height={p.xLabels ? 40 : 0}
          tick={p.xLabels ? tickStyle : false}
          tickSize={-6}
          tickMargin={p.xTickMargin}
          stroke={AXIS}
        />
        <XAxis
          xAxisId="top"
          orientation="top"
          type="number"
          dataKey="t"
          domain={p.xDomain}
          ticks={p.xTicks}
          interval={0}
          allowDataOverflow
          height={0}
          tick={false}
          tickSize={-6}
          stroke={AXIS}
        />
        <YAxis
          yAxisId={0}
          type="number"
          domain={p.yDomain}
          ticks={p.yTicks}
          interval={0}
          allowDataOverflow
          width={p.yWidth}
          tick={tickStyle}
          tickSize={-6}
          tickMargin={p.yTickMargin}
          stroke={AXIS}
        />
        <YAxis
          yAxisId="r"
          orientation="right"
          type="number"
          domain={p.yDomain}
          ticks={p.yTicks}
          interval={0}
          allowDataOverflow
          width={0}
          tick={false}
          tickSize={-6}
          stroke={AXIS}
        />
        {p.children}
      </ComposedChart>
    </div>
  );
}

function series(pts: Pt[], color: string, width: number, key: string, dash?: string) {
  return (
    <Line
      key={key}
      data={rows(pts)}
      dataKey="v"
      type="linear"
      stroke={color}
      strokeWidth={width}
      strokeDasharray={dash}
      dot={false}
      activeDot={false}
      isAnimationActive={false}
    />
  );
}

function Txt({ x, y, size, rotate, children }: { x: number; y: number; size: number; rotate?: boolean; children: React.ReactNode }) {
  return (
    <div
      style={{
        position: 'absolute',
        left: x,
        top: y,
        transform: `translate(-50%, -50%)${rotate ? ' rotate(-90deg)' : ''}`,
        fontSize: size,
        lineHeight: 1,
        whiteSpace: 'nowrap',
        color: '#1a1a1a'
      }}
    >
      {children}
    </div>
  );
}

type Entry = { label: string; kind: 'line' | 'dash' | 'dot' | 'patch'; color: string; width: number };

function Sample({ e }: { e: Entry }) {
  if (e.kind === 'patch') {
    return (
      <svg width={34} height={18}>
        <rect x={0} y={1} width={34} height={16} fill={TUBE} />
      </svg>
    );
  }
  const dash = e.kind === 'dash' ? '14 12' : e.kind === 'dot' ? '4 3' : undefined;
  return (
    <svg width={36} height={14}>
      <line x1={0} x2={36} y1={7} y2={7} stroke={e.color} strokeWidth={e.width} strokeDasharray={dash} />
    </svg>
  );
}

function FigLegend({ x, y, w, h, size, entries }: { x: number; y: number; w: number; h: number; size: number; entries: Entry[] }) {
  return (
    <div
      style={{
        position: 'absolute',
        left: x,
        top: y,
        width: w,
        height: h,
        boxSizing: 'border-box',
        border: `1px solid ${AXIS}`,
        background: '#fff',
        display: 'flex',
        alignItems: 'center',
        justifyContent: 'space-between',
        padding: '0 5px 0 4px',
        fontSize: size,
        color: '#000'
      }}
    >
      {entries.map((e) => (
        <div key={e.label} style={{ display: 'flex', alignItems: 'center', gap: 4 }}>
          <Sample e={e} />
          <span>{e.label}</span>
        </div>
      ))}
    </div>
  );
}

const mpcEntries: Entry[] = [
  { label: mpcNames[0], kind: 'line', color: GREEN, width: 2 },
  { label: mpcNames[1], kind: 'line', color: BLUE, width: 2 },
  { label: mpcNames[2], kind: 'line', color: RED, width: 2 }
];
const predEntries: Entry[] = [
  { label: 'Past target', kind: 'line', color: RED, width: 3 },
  { label: 'Median', kind: 'dot', color: RED, width: 4 },
  { label: 'Tube', kind: 'patch', color: TUBE, width: 0 }
];

const fullX: Pt = [2415, 3020];
const fullTicks = [2500, 2600, 2700, 2800, 2900, 3000];
const zoomY: Pt = [0, 0.295];
const zoomYTicks = [0, 0.1, 0.2];

export default function App() {
  const zoomCols = [
    { left: 0, width: 480, right: 19, tubes: tubeRows(tubeBT, tubeBLo, tubeBHi), median: medianB },
    { left: 462, width: 480, right: 18, tubes: tubeRows(tubeCT, tubeCLo, tubeCHi), median: medianC },
    { left: 925, width: 487, right: 26, tubes: tubeRows(tubeDT, tubeDLo, tubeDHi), median: medianD }
  ];
  const labelX = [
    { letter: 47, ylab: 42, xlab: 272 },
    { letter: 515, ylab: 504, xlab: 733 },
    { letter: 979, ylab: 967, xlab: 1197 }
  ];

  return (
    <div style={{ position: 'absolute', left: 0, top: 0, width: 1412, height: 1105, background: '#fff', fontFamily: FONT, overflow: 'hidden' }}>
      {/* (a) temperature */}
      <Panel
        left={0} top={0} width={1412} height={240}
        margin={{ top: 16, right: 26, bottom: 18, left: 0 }}
        xDomain={fullX} xTicks={fullTicks} xLabels={false}
        yDomain={[1000, 1953]} yTicks={[1000, 1200, 1400, 1600, 1800]} yWidth={87}
        fontSize={14} yTickMargin={11} xTickMargin={14}
      >
        {series(tempRef, REFGRAY, 5, 'ref')}
        {series(tempUnc, GREEN, 1.6, 'unc')}
        {series(tempCon, BLUE, 1.6, 'con')}
        {series(tempRob, RED, 1.6, 'rob')}
      </Panel>

      {/* depth */}
      <Panel
        left={0} top={230} width={1412} height={220}
        margin={{ top: 6, right: 26, bottom: 10, left: 0 }}
        xDomain={fullX} xTicks={fullTicks} xLabels={false}
        yDomain={[0, 0.338]} yTicks={[0, 0.05, 0.1, 0.15, 0.2, 0.25, 0.3]} yWidth={87}
        fontSize={14} yTickMargin={11} xTickMargin={14}
      >
        {constraintLevels.map((c) => (
          <ReferenceLine key={'c' + c} y={c} stroke={CONGRAY} strokeWidth={3} strokeDasharray="16 14" />
        ))}
        {series(depthUnc, GREEN, 1.6, 'unc')}
        {series(depthCon, BLUE, 1.6, 'con')}
        {series(depthRob, RED, 1.6, 'rob')}
        {boxSpans.map(([a, b]) => (
          <ReferenceArea
            key={'box' + a}
            x1={a} x2={b} y1={boxDepth[0]} y2={boxDepth[1]}
            fill="none" fillOpacity={0}
            stroke="#ffb41e" strokeWidth={2} strokeDasharray="6 3"
          />
        ))}
      </Panel>

      {/* power */}
      <Panel
        left={0} top={440} width={1412} height={265}
        margin={{ top: 15, right: 26, bottom: 5, left: 0 }}
        xDomain={fullX} xTicks={fullTicks} xLabels={true}
        yDomain={[503.5, 600]} yTicks={[520, 540, 560, 580, 600]} yWidth={87}
        fontSize={14} yTickMargin={11} xTickMargin={14}
      >
        {series(powerUnc, GREEN, 2, 'unc')}
        {series(powerCon, BLUE, 2, 'con')}
        {series(powerRob, RED, 2, 'rob')}
      </Panel>

      {/* zoom columns */}
      {zoomCols.map((col, i) => {
        const w = zoomWindows[i];
        const [t0, d0] = predStart[i];
        const past: Pt[] = depthRob.filter(([t]) => t >= w[0] - 30 && t < t0).concat([[t0, d0]]);
        return (
          <React.Fragment key={'z' + i}>
            <Panel
              left={col.left} top={700} width={col.width} height={200}
              margin={{ top: 31, right: col.right, bottom: 9, left: 0 }}
              xDomain={w} xTicks={zoomTicks[i]} xLabels={false}
              yDomain={zoomY} yTicks={zoomYTicks} yWidth={82}
              fontSize={15.5} yTickMargin={12} xTickMargin={17}
            >
              {constraintLevels.map((c) => (
                <ReferenceLine key={'c' + c} y={c} stroke={CONGRAY} strokeWidth={4} strokeDasharray="18 17" />
              ))}
              {series(inWin(depthUnc, w), GREEN, 3, 'unc')}
              {series(inWin(depthCon, w), BLUE, 3, 'con')}
              {series(inWin(depthRob, w), RED, 3, 'rob')}
            </Panel>
            <Panel
              left={col.left} top={895} width={col.width} height={210}
              margin={{ top: 6, right: col.right, bottom: 4, left: 0 }}
              xDomain={w} xTicks={zoomTicks[i]} xLabels={true}
              yDomain={zoomY} yTicks={zoomYTicks} yWidth={82}
              fontSize={15.5} yTickMargin={12} xTickMargin={17}
            >
              <Area
                key="tube"
                data={col.tubes}
                dataKey="range"
                type="monotone"
                stroke="none"
                fill={TUBE}
                fillOpacity={1}
                isAnimationActive={false}
              />
              {constraintLevels.map((c) => (
                <ReferenceLine key={'c' + c} y={c} stroke="#98988a" strokeWidth={4} strokeDasharray="18 17" />
              ))}
              {series(past, RED, 3, 'past')}
              {series(col.median, RED, 3.5, 'median', '3.5 3')}
              <ReferenceDot key="dot" x={t0} y={d0} r={7} fill={RED} stroke="none" />
            </Panel>
          </React.Fragment>
        );
      })}

      {/* texts */}
      <Txt x={25} y={20} size={26}>(a)</Txt>
      <Txt x={37} y={116} size={15} rotate>Temp. (K)</Txt>
      <Txt x={40} y={337} size={15} rotate>Depth (mm)</Txt>
      <Txt x={43} y={562} size={15} rotate>Power (W)</Txt>
      <Txt x={736} y={693} size={14.5}>Timestep (0.0355 sec/step)</Txt>
      {boxNames.map((n, i) => (
        <Txt key={n} x={[304, 810, 1171][i]} y={251} size={19}>{n}</Txt>
      ))}
      {labelX.map((l, i) => (
        <React.Fragment key={'lab' + i}>
          <Txt x={l.letter} y={724} size={26}>{boxNames[i]}</Txt>
          <Txt x={l.ylab} y={811} size={16.5} rotate>Depth (mm)</Txt>
          <Txt x={l.ylab} y={981} size={16.5} rotate>Depth (mm)</Txt>
          <Txt x={l.xlab} y={1097} size={15.5}>Timestep</Txt>
        </React.Fragment>
      ))}

      {/* legends */}
      <FigLegend
        x={398} y={189} w={678} h={24} size={16.5}
        entries={[{ label: 'Reference', kind: 'line', color: REFGRAY, width: 5 }, ...mpcEntries]}
      />
      <FigLegend
        x={393} y={406} w={688} h={26} size={16.5}
        entries={[{ label: 'Constraints', kind: 'dash', color: CONGRAY, width: 3 }, ...mpcEntries]}
      />
      <FigLegend x={463} y={627} w={548} h={24} size={16.5} entries={mpcEntries} />
      <FigLegend x={109} y={1030} w={326} h={25} size={17} entries={predEntries} />
      <FigLegend x={571} y={1030} w={326} h={25} size={17} entries={predEntries} />
      <FigLegend x={1034} y={1030} w={326} h={25} size={17} entries={predEntries} />
    </div>
  );
}
